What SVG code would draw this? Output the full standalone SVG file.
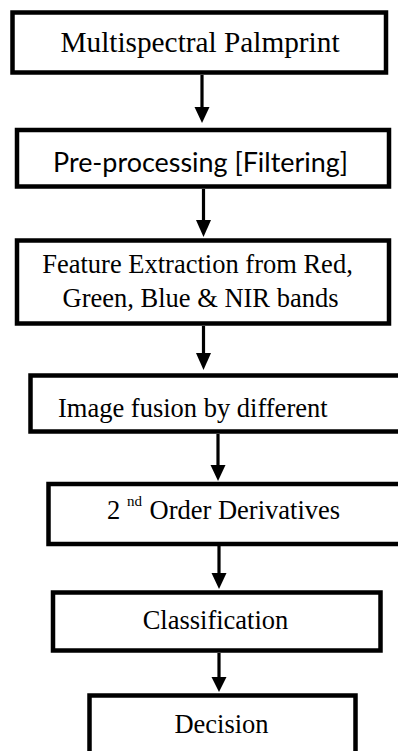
<svg xmlns="http://www.w3.org/2000/svg" width="398" height="751" viewBox="0 0 398 751">
  <style>
    .box { fill: #ffffff; stroke: #000000; stroke-width: 4.5; }
    .lbl { font-family: "Liberation Serif", "Times New Roman", serif; font-size: 26.5px; fill: #000000; }
    .sans { font-family: Lato, "Liberation Sans", sans-serif; font-size: 27px; fill: #000000; }
    .shaft { stroke: #000000; stroke-width: 3.2; fill: none; }
    .head { fill: #000000; }
  </style>
  <rect width="398" height="751" fill="#ffffff"/>

  <!-- connectors: vertical arrows between consecutive steps -->
  <g id="connectors">
    <line class="shaft" x1="202" y1="75" x2="202" y2="109"/>
    <polygon class="head" points="194.5,107 209.5,107 202,123"/>
    <line class="shaft" x1="203.5" y1="189" x2="203.5" y2="222"/>
    <polygon class="head" points="196,220 211,220 203.5,237"/>
    <line class="shaft" x1="203.5" y1="326" x2="203.5" y2="355"/>
    <polygon class="head" points="196,353 211,353 203.5,370"/>
    <line class="shaft" x1="218" y1="434" x2="218" y2="467"/>
    <polygon class="head" points="210.5,465 225.5,465 218,481"/>
    <line class="shaft" x1="219" y1="546" x2="219" y2="575"/>
    <polygon class="head" points="211.5,573 226.5,573 219,589"/>
    <line class="shaft" x1="219" y1="653" x2="219" y2="679"/>
    <polygon class="head" points="211.5,677 226.5,677 219,692"/>
  </g>

  <g id="node-input">
    <rect class="box" x="12.5" y="12.5" width="373.5" height="60"/>
    <text class="lbl" x="200" y="52" text-anchor="middle" style="font-size:29.3px">Multispectral Palmprint</text>
  </g>

  <g id="node-preprocessing">
    <rect class="box" x="17" y="130" width="372" height="56.5"/>
    <text class="sans" x="53" y="172" textLength="295" lengthAdjust="spacingAndGlyphs">Pre-processing [Filtering]</text>
  </g>

  <g id="node-features">
    <rect class="box" x="17" y="240.5" width="372" height="83"/>
    <text class="lbl" x="197.5" y="273" text-anchor="middle">Feature Extraction from Red,</text>
    <text class="lbl" x="200.5" y="307" text-anchor="middle">Green, Blue &amp; NIR bands</text>
  </g>

  <g id="node-fusion">
    <rect class="box" x="30.5" y="375.5" width="380" height="56"/>
    <text class="lbl" x="58" y="417">Image fusion by different</text>
  </g>

  <g id="node-derivatives">
    <rect class="box" x="48.5" y="484" width="362" height="60"/>
    <text class="lbl" y="519"><tspan x="107">2</tspan><tspan x="127" y="506" style="font-size:15px">nd</tspan><tspan x="149.5" y="519">Order Derivatives</tspan></text>
  </g>

  <g id="node-classification">
    <rect class="box" x="53" y="592.5" width="327.5" height="58"/>
    <text class="lbl" x="215.5" y="629" text-anchor="middle">Classification</text>
  </g>

  <g id="node-decision">
    <rect class="box" x="89.5" y="695.5" width="266" height="70"/>
    <text class="lbl" x="221.5" y="733" text-anchor="middle">Decision</text>
  </g>
</svg>
